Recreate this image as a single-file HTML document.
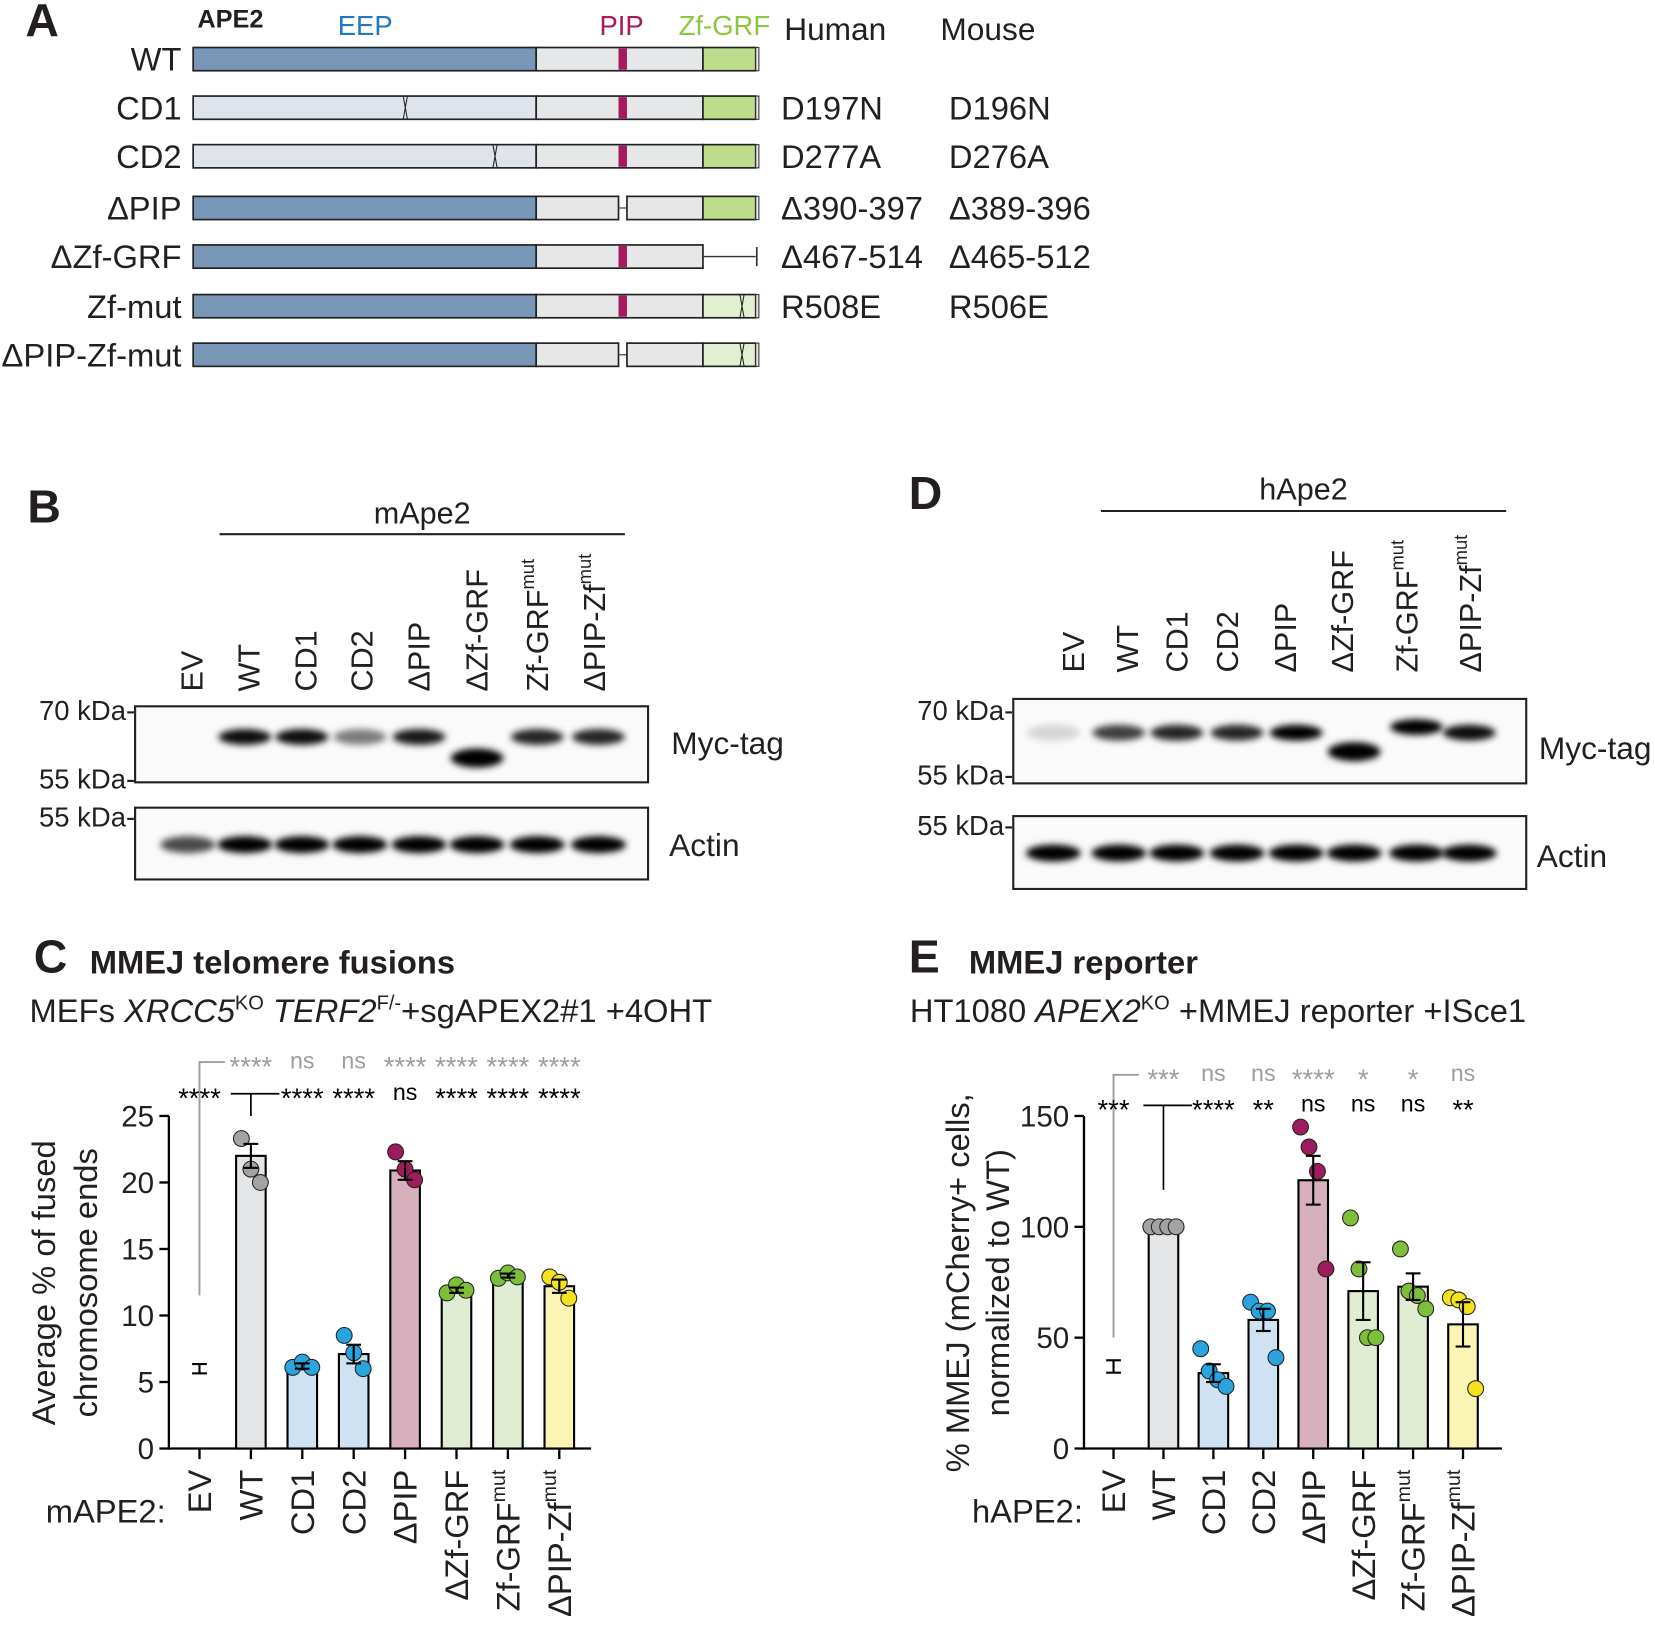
<!DOCTYPE html>
<html><head><meta charset="utf-8"><style>
html,body{margin:0;padding:0;background:#fff}
svg{display:block;font-family:"Liberation Sans",Arial,sans-serif}
</style></head><body>
<svg id="fig" width="1655" height="1628" viewBox="0 0 1568 1542" preserveAspectRatio="none" xmlns="http://www.w3.org/2000/svg">
<defs>
<filter id="blur" x="-30%" y="-100%" width="160%" height="300%"><feGaussianBlur stdDeviation="3.2"/></filter>
</defs>
<g id="panelA"></g>
<g id="panelB"></g>
<g id="panelD"></g>
<g id="panelC"></g>
<g id="panelE"></g>
</svg>
<script>
// ---------- data ----------
const constructNames = ["WT","CD1","CD2","ΔPIP","ΔZf-GRF","Zf-mut","ΔPIP-Zf-mut"];
const humanMut = ["","D197N","D277A","Δ390-397","Δ467-514","R508E",""];
const mouseMut = ["","D196N","D276A","Δ389-396","Δ465-512","R506E",""];

const chartCats = ["EV","WT","CD1","CD2","ΔPIP","ΔZf-GRF","Zf-GRF|mut","ΔPIP-Zf|mut"];
const cMeans = [6, 22, 6.2, 7.1, 20.9, 11.9, 13.0, 12.2];
const cErrs = [0.35, 0.9, 0.2, 0.7, 0.7, 0.2, 0.15, 0.5];
const cPoints = [[], [23.3,21.0,20.0], [6.1,6.5,6.1], [8.5,7.2,6.0], [22.3,21.0,20.2], [11.7,12.3,11.9], [12.8,13.2,12.9], [12.9,12.5,11.3]];
const cSigGrey = ["****","ns","ns","****","****","****","****"];
const cSigBlack = ["****","****","****","ns","****","****","****"];
const cTicks = [0,5,10,15,20,25];

const eMeans = [37, 100, 34, 58, 121, 71, 73, 56];
const eErrs = [2.8, 0, 4, 5, 11, 13, 6, 10];
const ePoints = [[], [100,100,100,100], [45,35,31,28], [66,62,62,41], [145,136,125,81], [104,81,50,50], [90,71,69,63], [68,67,64,27]];
const eSigGrey = ["***","ns","ns","****","*","*","ns"];
const eSigBlack = ["***","****","**","ns","ns","ns","**"];
const eTicks = [0,50,100,150];

const barFill = ["none","#e4e5e6","#cfe2f3","#cfe2f3","#d8afbd","#e1edd3","#e1edd3","#fbf5b4"];
const dotFill = ["#000","#a3a3a3","#2aa4de","#2aa4de","#9e1b5d","#7dbf3b","#7dbf3b","#f6e11f"];

const blotLanes = ["EV","WT","CD1","CD2","ΔPIP","ΔZf-GRF","Zf-GRF|mut","ΔPIP-Zf|mut"];
const bMycIntensity = [0, 0.95, 0.95, 0.5, 0.9, 1, 0.85, 0.85];
const bMycShift = [0,0,0,0,0,1,0,0];
const bActin = [0.7,1,1,1,1,1,1,1];
const dMycIntensity = [0.15, 0.75, 0.85, 0.85, 1, 1, 1, 0.95];
const dMycShift = [0,0,0,0,0,1,-0.3,0];
const dActin = [1,1,1,1,1,1,1,1];

// ---------- helpers ----------
const NS = "http://www.w3.org/2000/svg";
function el(tag, attrs, parent, text){
  const e = document.createElementNS(NS, tag);
  for (const k in attrs) e.setAttribute(k, attrs[k]);
  if (text !== undefined) e.textContent = text;
  parent.appendChild(e);
  return e;
}
function txt(parent, x, y, s, size, opts){
  opts = opts || {};
  const t = el("text", {x:x, y:y, "font-size":size, fill:opts.fill||"#231f20", "text-anchor":opts.anchor||"start", "font-weight":opts.bold?"bold":"normal"}, parent, s);
  if (opts.transform) t.setAttribute("transform", opts.transform);
  return t;
}
function richLabel(t, s, size){
  const parts = s.split("|");
  t.textContent = "";
  const a = document.createElementNS(NS,"tspan"); a.textContent = parts[0]; t.appendChild(a);
  if (parts[1]){
    const b = document.createElementNS(NS,"tspan");
    b.setAttribute("font-size", size*0.6);
    b.setAttribute("dy", -size*0.45);
    b.textContent = parts[1]; t.appendChild(b);
  }
}

// ---------- Panel A ----------
(function(){
  const g = document.getElementById("panelA");
  const lab = txt(g, 24, 34, "A", 44, {bold:true});
  
  
  txt(g, 187, 26, "APE2", 24, {bold:true});
  txt(g, 320, 33, "EEP", 26, {fill:"#2177c0"});
  txt(g, 568, 33, "PIP", 26, {fill:"#a6195f"});
  txt(g, 643, 33, "Zf-GRF", 26, {fill:"#8cc63f"});
  txt(g, 743, 38, "Human", 30);
  txt(g, 891, 38, "Mouse", 30);
  const rowsY = [56,102,148,197,243,290,336];
  const S = {stroke:"#222","stroke-width":1.6};
  constructNames.forEach((n,i)=>{
    const y = rowsY[i], h=22, t=y-h/2;
    const row = el("g", {}, g);
    
    
    txt(row, 172, y+11, n, 31, {anchor:"end"});
    const cd = (i===1||i===2);
    el("rect",Object.assign({x:183,y:t,width:325,height:h,fill:cd?"#dfe3ec":"#7896b5"},S),row);
    if (cd){ const mx = i===1?384:469; el("path",{d:`M${mx-2} ${t} L${mx+2} ${t+h} M${mx+2} ${t} L${mx-2} ${t+h}`,stroke:"#222","stroke-width":1},row);}
    const dPIP = (i===3||i===6);
    if (dPIP){
      el("rect",Object.assign({x:508,y:t,width:78,height:h,fill:"#e6e7e8"},S),row);
      el("line",{x1:586,y1:y,x2:594,y2:y,stroke:"#555","stroke-width":1.3},row);
      el("rect",Object.assign({x:594,y:t,width:72,height:h,fill:"#e6e7e8"},S),row);
    } else {
      el("rect",Object.assign({x:508,y:t,width:158,height:h,fill:"#e6e7e8"},S),row);
      el("rect",{x:586,y:t+1,width:8,height:h-2,fill:"#a6195f"},row);
    }
    if (i===4){
      el("line",{x1:666,y1:y,x2:716,y2:y,stroke:"#333","stroke-width":1.3},row);
      el("line",{x1:717,y1:t+2,x2:717,y2:t+h-2,stroke:"#333","stroke-width":1.6},row);
    } else {
      const mutZ = (i===5||i===6);
      el("rect",Object.assign({x:666,y:t,width:50,height:h,fill:mutZ?"#e2efd0":"#bedd8c"},S),row);
      el("rect",{x:716,y:t,width:3,height:h,fill:"#e6e7e8",stroke:"#333","stroke-width":1},row);
      if (mutZ) el("path",{d:`M701 ${t} L705 ${t+h} M705 ${t} L701 ${t+h}`,stroke:"#222","stroke-width":1},row);
    }
    if (humanMut[i]) txt(row, 740, y+11, humanMut[i], 31);
    if (mouseMut[i]) txt(row, 899, y+11, mouseMut[i], 31);
  });
})();

// ---------- Blots ----------
function blot(gid, cfg){
  const g = document.getElementById(gid);
  const lab = txt(g, cfg.labX, cfg.labY, cfg.letter, 44, {bold:true});
  
  
  txt(g, cfg.headX, cfg.headY, cfg.head, 29, {anchor:"middle"});
  el("line",{x1:cfg.lineX1,y1:cfg.lineY,x2:cfg.lineX2,y2:cfg.lineY,stroke:"#231f20","stroke-width":2},g);
  blotLanes.forEach((n,i)=>{
    const x = cfg.laneX[i];
    const t = txt(g, x+10, cfg.laneBottom, "", 29, {transform:`rotate(-90 ${x+10} ${cfg.laneBottom})`});
    richLabel(t, n, 29);
    
    
  });
  const bw = cfg.boxX2-cfg.boxX1;
  const myc = el("g",{},g);
  
  
  el("rect",{x:cfg.boxX1,y:cfg.mycY1,width:bw,height:cfg.mycY2-cfg.mycY1,fill:"#fafafa",stroke:"#231f20","stroke-width":2},myc);
  const act = el("g",{},g);
  
  
  el("rect",{x:cfg.boxX1,y:cfg.actY1,width:bw,height:cfg.actY2-cfg.actY1,fill:"#fafafa",stroke:"#231f20","stroke-width":2},act);
  blotLanes.forEach((n,i)=>{
    const x = cfg.bandX[i];
    const a = cfg.myc[i];
    if (a>0){
      const yy = cfg.mycBand + cfg.shift[i]*cfg.shiftPx;
      el("ellipse",{cx:x,cy:yy,rx:25,ry:cfg.shift[i]>0?9:7.5,fill:"#000","fill-opacity":a,filter:"url(#blur)"},myc);
    }
    el("ellipse",{cx:x,cy:cfg.actBand,rx:26,ry:8,fill:"#000","fill-opacity":cfg.act[i],filter:"url(#blur)"},act);
  });
  cfg.kda.forEach(k=>{
    txt(g, cfg.kdaX, k[1]+9, k[0]+" kDa-", 26, {anchor:"end"});
  });
  txt(g, cfg.mycLabX, cfg.mycLabY, "Myc-tag", 30);
  txt(g, cfg.mycLabX-2, cfg.actLabY, "Actin", 30);
}
blot("panelB",{letter:"B",labX:26,labY:495,head:"mApe2",headX:400,headY:496,lineX1:208,lineX2:592,lineY:506,
  laneX:[182,236,290,343,397,452,509,563],laneBottom:655,bandX:[178,232,286,341,397,452,509,567],
  boxX1:128,boxX2:614,mycY1:669,mycY2:741,actY1:765,actY2:833,myc:bMycIntensity,shift:bMycShift,shiftPx:20,mycBand:698,actBand:800,act:bActin,
  kda:[["70",673],["55",738],["55",774]],kdaX:128,mycLabX:636,mycLabY:714,actLabY:811});
blot("panelD",{letter:"D",labX:861,labY:482,head:"hApe2",headX:1235,headY:473,lineX1:1043,lineX2:1427,lineY:484,
  laneX:[1017,1068,1115,1163,1218,1272,1333,1393],laneBottom:637,bandX:[998,1060,1115,1172,1228,1283,1342,1392],
  boxX1:960,boxX2:1446,mycY1:662,mycY2:742,actY1:773,actY2:842,myc:dMycIntensity,shift:dMycShift,shiftPx:18,mycBand:694,actBand:808,act:dActin,
  kda:[["70",673],["55",734],["55",782]],kdaX:960,mycLabX:1458,mycLabY:719,actLabY:821});

// ---------- Bar charts ----------
function barChart(gid, cfg){
  const g = document.getElementById(gid);
  const lab = txt(g, cfg.labX, 921, cfg.letter, 44, {bold:true});
  
  
  const tt = txt(g, cfg.titleX, 922, cfg.title, 31, {bold:true});
  
  
  const st = el("text",{x:cfg.subX,y:968,"font-size":31,fill:"#231f20"},g);
  
  
  cfg.subtitle.forEach(p=>{
    const ts = el("tspan",{},st,p[0]);
    if (p[1]==="i") ts.setAttribute("font-style","italic");
    if (p[1]==="s"){ ts.setAttribute("font-size",19); ts.setAttribute("dy",-12); }
    if (p[1]==="r"){ ts.setAttribute("dy",12); }
  });
  const y0 = 1372, yTop = 1057;
  const ymax = cfg.ticks[cfg.ticks.length-1];
  const Y = v => y0 - (v/ymax)*(y0-yTop);
  const X = i => cfg.x0 + i*cfg.step;
  const ax = el("g",{},g);
  
  
  el("line",{x1:cfg.axX,y1:yTop,x2:cfg.axX,y2:y0+1,stroke:"#000","stroke-width":2.2},ax);
  cfg.ticks.forEach(v=>{
    el("line",{x1:cfg.axX-9,y1:Y(v),x2:cfg.axX,y2:Y(v),stroke:"#000","stroke-width":2.2},ax);
    txt(ax, cfg.axX-14, Y(v)+10, String(v), 28, {anchor:"end"});
  });
  const xa = el("g",{},g);
  
  
  el("line",{x1:cfg.axX-1,y1:y0,x2:cfg.axEnd,y2:y0,stroke:"#000","stroke-width":2.2},xa);
  chartCats.forEach((c,i)=>{
    el("line",{x1:X(i),y1:y0,x2:X(i),y2:y0+10,stroke:"#000","stroke-width":2.2},xa);
    const lx = X(i)+11, ly = y0+20;
    const t = txt(xa, lx, ly, "", 31, {anchor:"end",transform:`rotate(-90 ${lx} ${ly})`});
    richLabel(t, c, 31);
  });
  txt(g, cfg.catLabX, 1442, cfg.catLab, 31, {anchor:"end"});
  cfg.ytitle.forEach((s,k)=>{
    const tx = cfg.ytX[k], ty = 1215;
    const t = txt(g, tx, ty, s, 31, {anchor:"middle",transform:`rotate(-90 ${tx} ${ty})`});
    
    
  });
  const jit = {1:[0],3:[-9,0,9],4:[-12,-4,4,12]};
  cfg.means.forEach((m,i)=>{
    const bx = X(i);
    if (i>0){
      const b = el("rect",{x:bx-14,y:Y(m),width:28,height:y0-Y(m),fill:barFill[i],stroke:"#000","stroke-width":2},g);
      
      
    }
    const n = cfg.pts[i].length;
    cfg.pts[i].forEach((p,k)=>{
      const dx = (jit[n]||[0])[k] || 0;
      const d = el("circle",{cx:bx+dx,cy:Y(p),r:7.5,fill:dotFill[i],stroke:"#222","stroke-width":1},g);
      
      
    });
    const e = cfg.errs[i];
    if (e>0){
      const eg = el("g",{},g);
      
      
      el("line",{x1:bx,y1:Y(m-e),x2:bx,y2:Y(m+e),stroke:"#000","stroke-width":2},eg);
      el("line",{x1:bx-7,y1:Y(m-e),x2:bx+7,y2:Y(m-e),stroke:"#000","stroke-width":2},eg);
      el("line",{x1:bx-7,y1:Y(m+e),x2:bx+7,y2:Y(m+e),stroke:"#000","stroke-width":2},eg);
    }
  });
  const sg = el("g",{},g);
  
  
  el("path",{d:`M${X(0)} ${cfg.greyLineBottom} L${X(0)} ${cfg.greyY-6} L${X(0)+24} ${cfg.greyY-6}`,stroke:"#9d9d9d","stroke-width":1.8,fill:"none"},sg);
  el("line",{x1:X(1)-19,y1:cfg.blackY-6,x2:X(1)+27,y2:cfg.blackY-6,stroke:"#000","stroke-width":1.6},sg);
  el("line",{x1:X(1),y1:cfg.blackY-6,x2:X(1),y2:cfg.wtLineBottom,stroke:"#000","stroke-width":1.6},sg);
  cfg.sigGrey.forEach((s,k)=>{
    const isNs = s==="ns";
    txt(sg, X(k+1), cfg.greyY + (isNs?0:7), s, isNs?22:26, {anchor:"middle",fill:"#9d9d9d"});
  });
  cfg.sigBlack.forEach((s,k)=>{
    const i = k===0?0:k+1;
    const isNs = s==="ns";
    txt(sg, X(i), cfg.blackY + (isNs?0:7), s, isNs?22:26, {anchor:"middle",fill:"#000"});
  });
}
barChart("panelC",{letter:"C",labX:32,title:"MMEJ telomere fusions",titleX:85,subX:28,
  subtitle:[["MEFs "],["XRCC5","i"],["KO","s"],[" ","r"],["TERF2","i"],["F/-","s"],["+sgAPEX2#1 +4OHT","r"]],
  ticks:cTicks,means:cMeans,errs:cErrs,pts:cPoints,sigGrey:cSigGrey,sigBlack:cSigBlack,
  axX:160,axEnd:560,x0:189,step:48.7,catLab:"mAPE2:",catLabX:157,ytitle:["Average % of fused","chromosome ends"],ytX:[52,92],
  greyY:1012,blackY:1042,greyLineBottom:1227,wtLineBottom:1057});
barChart("panelE",{letter:"E",labX:861,title:"MMEJ reporter",titleX:918,subX:862,
  subtitle:[["HT1080 "],["APEX2","i"],["KO","s"],[" +MMEJ reporter +ISce1","r"]],
  ticks:eTicks,means:eMeans,errs:eErrs,pts:ePoints,sigGrey:eSigGrey,sigBlack:eSigBlack,
  axX:1027,axEnd:1423,x0:1055,step:47.3,catLab:"hAPE2:",catLabX:1026,ytitle:["% MMEJ (mCherry+ cells,","normalized to WT)"],ytX:[918,956],
  greyY:1024,blackY:1053,greyLineBottom:1267,wtLineBottom:1127});
</script>
</body></html>
